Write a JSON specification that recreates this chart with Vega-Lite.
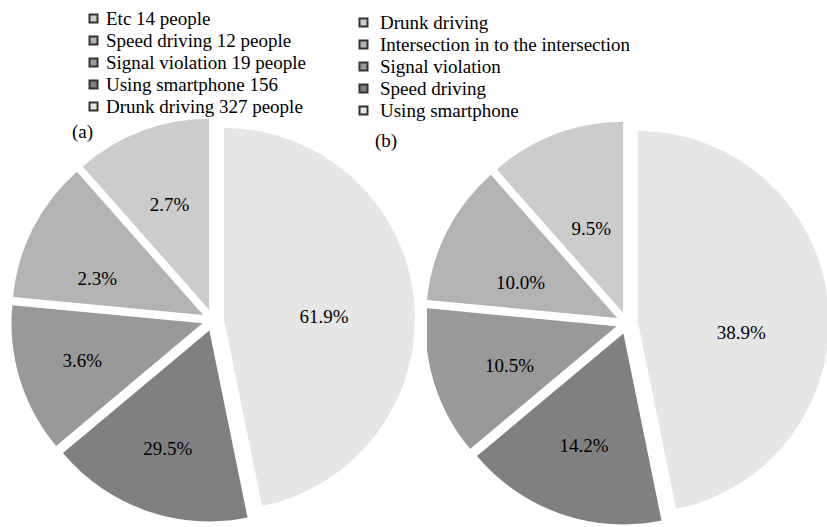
{
  "$schema": "https://vega.github.io/schema/vega-lite/v6.json",
  "padding": {"left": 0, "top": 9, "right": 0, "bottom": 0},
  "background": "white",
  "bounds": "flush",
  "spacing": 1,
  "datasets": {
    "pieA": [
      {"cause": "Drunk driving 327 people", "share": 46.8, "pct": "61.9%"},
      {"cause": "Using smartphone 156", "share": 17.1, "pct": "29.5%"},
      {"cause": "Signal violation 19 people", "share": 12.6, "pct": "3.6%"},
      {"cause": "Speed driving 12 people", "share": 12.0, "pct": "2.3%"},
      {"cause": "Etc 14 people", "share": 11.5, "pct": "2.7%"}
    ],
    "pieB": [
      {"cause": "Using smartphone", "share": 46.8, "pct": "38.9%"},
      {"cause": "Speed driving", "share": 17.1, "pct": "14.2%"},
      {"cause": "Signal violation", "share": 12.6, "pct": "10.5%"},
      {"cause": "Intersection in to the intersection", "share": 12.0, "pct": "10.0%"},
      {"cause": "Drunk driving", "share": 11.5, "pct": "9.5%"}
    ]
  },
  "hconcat": [
    {
      "width": 426,
      "height": 402,
      "data": {"name": "pieA"},
      "title": {"text": "(a)", "anchor": "start", "frame": "group", "orient": "top", "offset": 0, "dx": 72, "dy": 133},
      "encoding": {
        "theta": {"field": "share", "type": "quantitative", "stack": true},
        "order": {"field": "share", "type": "quantitative", "sort": "descending"}
      },
      "layer": [
        {
          "mark": {
            "type": "arc",
            "radius": 191,
            "xOffset": {"expr": "11*sin(PI*(datum.share_start+datum.share_end)/100)"},
            "yOffset": {"expr": "-11*cos(PI*(datum.share_start+datum.share_end)/100)"}
          },
          "encoding": {
            "color": {
              "field": "cause",
              "type": "nominal",
              "scale": {
                "domain": ["Etc 14 people", "Speed driving 12 people", "Signal violation 19 people", "Using smartphone 156", "Drunk driving 327 people"],
                "range": ["#cccccc", "#b3b3b3", "#999999", "#808080", "#e6e6e6"]
              },
              "legend": {"orient": "none", "legendX": 84, "legendY": -110, "labelOffset": 3}
            }
          }
        },
        {
          "mark": {
            "type": "text",
            "fontSize": 19,
            "radius": {"expr": "datum.share > 40 ? 100 : (datum.share > 12.3 ? 126 : 112)"},
            "thetaOffset": {"expr": "datum.share > 40 ? 0.08 : (datum.share > 11.8 && datum.share < 12.3 ? -0.14 : 0)"},
            "xOffset": {"expr": "11*sin(PI*(datum.share_start+datum.share_end)/100)"},
            "yOffset": {"expr": "-11*cos(PI*(datum.share_start+datum.share_end)/100)"}
          },
          "encoding": {
            "text": {"field": "pct"},
            "detail": {"field": "cause"},
            "color": {"value": "black"}
          }
        }
      ]
    },
    {
      "width": 400,
      "height": 408,
      "data": {"name": "pieB"},
      "title": {"text": "(b)", "anchor": "start", "frame": "group", "orient": "top", "offset": 0, "dx": -52, "dy": 138},
      "encoding": {
        "theta": {"field": "share", "type": "quantitative", "stack": true},
        "order": {"field": "share", "type": "quantitative", "sort": "descending"}
      },
      "layer": [
        {
          "mark": {
            "type": "arc",
            "radius": 191,
            "clip": true,
            "xOffset": {"expr": "11*sin(PI*(datum.share_start+datum.share_end)/100)"},
            "yOffset": {"expr": "-11*cos(PI*(datum.share_start+datum.share_end)/100)"}
          },
          "encoding": {
            "color": {
              "field": "cause",
              "type": "nominal",
              "scale": {
                "domain": ["Drunk driving", "Intersection in to the intersection", "Signal violation", "Speed driving", "Using smartphone"],
                "range": ["#cccccc", "#b3b3b3", "#999999", "#808080", "#e6e6e6"]
              },
              "legend": {"orient": "none", "legendX": -73, "legendY": -106, "labelOffset": 7}
            }
          }
        },
        {
          "mark": {
            "type": "text",
            "fontSize": 19,
            "radius": {"expr": "datum.share > 40 ? 104 : (datum.share > 15 ? 119 : (datum.share > 12.3 ? 114 : (datum.share > 11.8 ? 103 : 90)))"},
            "thetaOffset": {"expr": "datum.share > 40 ? 0.21 : (datum.share > 12.3 && datum.share < 15 ? -0.05 : (datum.share > 11.8 && datum.share < 12.3 ? -0.12 : 0))"},
            "xOffset": {"expr": "11*sin(PI*(datum.share_start+datum.share_end)/100)"},
            "yOffset": {"expr": "-11*cos(PI*(datum.share_start+datum.share_end)/100)"}
          },
          "encoding": {
            "text": {"field": "pct"},
            "detail": {"field": "cause"},
            "color": {"value": "black"}
          }
        }
      ]
    }
  ],
  "resolve": {
    "scale": {"color": "independent", "theta": "independent"},
    "legend": {"color": "independent"}
  },
  "config": {
    "font": "Liberation Serif",
    "view": {"stroke": null},
    "title": {"font": "Liberation Serif", "fontSize": 19, "fontWeight": "normal", "color": "black"},
    "text": {"font": "Liberation Serif"},
    "legend": {
      "direction": "vertical",
      "title": null,
      "symbolType": "square",
      "symbolSize": 64,
      "symbolStrokeColor": "#333333",
      "symbolStrokeWidth": 2,
      "symbolOpacity": 1,
      "labelFont": "Liberation Serif",
      "labelFontSize": 19,
      "labelColor": "black",
      "labelLimit": 400,
      "rowPadding": 2,
      "padding": 0
    }
  }
}
